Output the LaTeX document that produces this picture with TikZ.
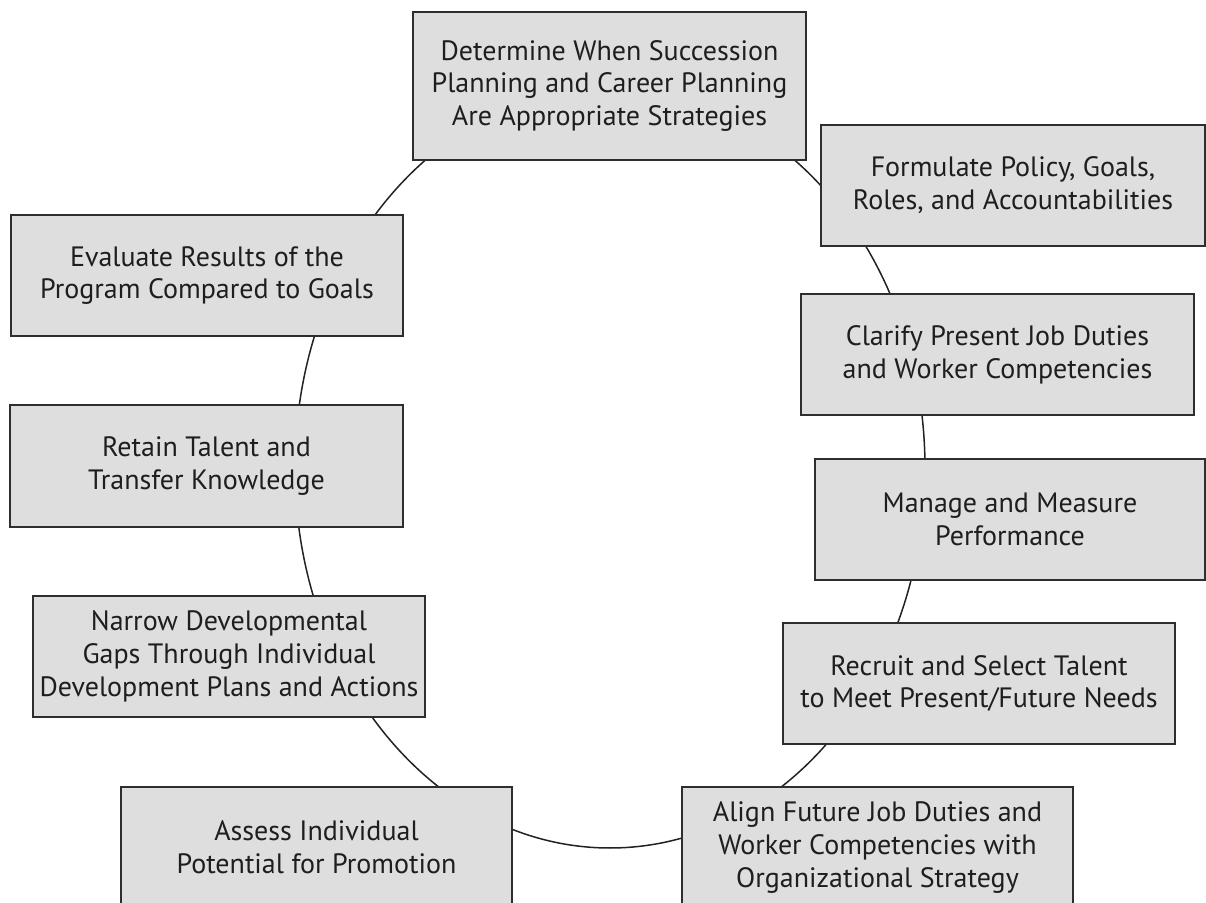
\documentclass[tikz,border=0pt]{standalone}
\usepackage{fontspec}
\setmainfont{PT Sans}
\definecolor{boxfill}{HTML}{DEDEDE}
\definecolor{boxline}{HTML}{2E2E2E}
\definecolor{ringline}{HTML}{222222}
\definecolor{labeltext}{HTML}{1E1E1E}
\begin{document}
\begin{tikzpicture}[x=0.5pt,y=-0.5pt,
  stage/.style={draw=boxline, fill=boxfill, line width=1pt, align=center,
    text=labeltext, inner sep=0pt, font=\fontsize{14}{16.4}\selectfont},
  stagesize/.style 2 args={minimum width=#1*0.5pt, minimum height=#2*0.5pt},
  ring/.style={draw=ringline, line width=0.75pt}]
\useasboundingbox (0,0) rectangle (1206,903);
\clip (0,0) rectangle (1206,903);

% the cycle runs behind all stages
\coordinate (hub) at (610,468);
\draw[ring] (hub) ellipse [x radius=315*0.5pt, y radius=380*0.5pt];

\node[stage, stagesize={393}{148}] (determine) at (609.5,86)
  {Determine When Succession\\Planning and Career Planning\\Are Appropriate Strategies};
\node[stage, stagesize={384}{121}] (formulate) at (1013,185.5)
  {Formulate Policy, Goals,\\Roles, and Accountabilities};
\node[stage, stagesize={393}{121}] (clarify) at (997.5,354.5)
  {Clarify Present Job Duties\\and Worker Competencies};
\node[stage, stagesize={390}{121}] (manage) at (1010,519.5)
  {Manage and Measure\\Performance};
\node[stage, stagesize={392}{121}] (recruit) at (979,683.5)
  {Recruit and Select Talent\\to Meet Present/Future Needs};
\node[stage, stagesize={391}{121}] (align) at (877.5,847.5)
  {Align Future Job Duties and\\Worker Competencies with\\Organizational Strategy};
\node[stage, stagesize={391}{121}] (assess) at (316.5,847.5)
  {Assess Individual\\Potential for Promotion};
\node[stage, stagesize={392}{121}] (narrow) at (229,656.5)
  {Narrow Developmental\\Gaps Through Individual\\Development Plans and Actions};
\node[stage, stagesize={393}{122}] (retain) at (206.5,466)
  {Retain Talent and\\Transfer Knowledge};
\node[stage, stagesize={392}{121}] (evaluate) at (207,275.5)
  {Evaluate Results of the\\Program Compared to Goals};
\end{tikzpicture}
\end{document}
